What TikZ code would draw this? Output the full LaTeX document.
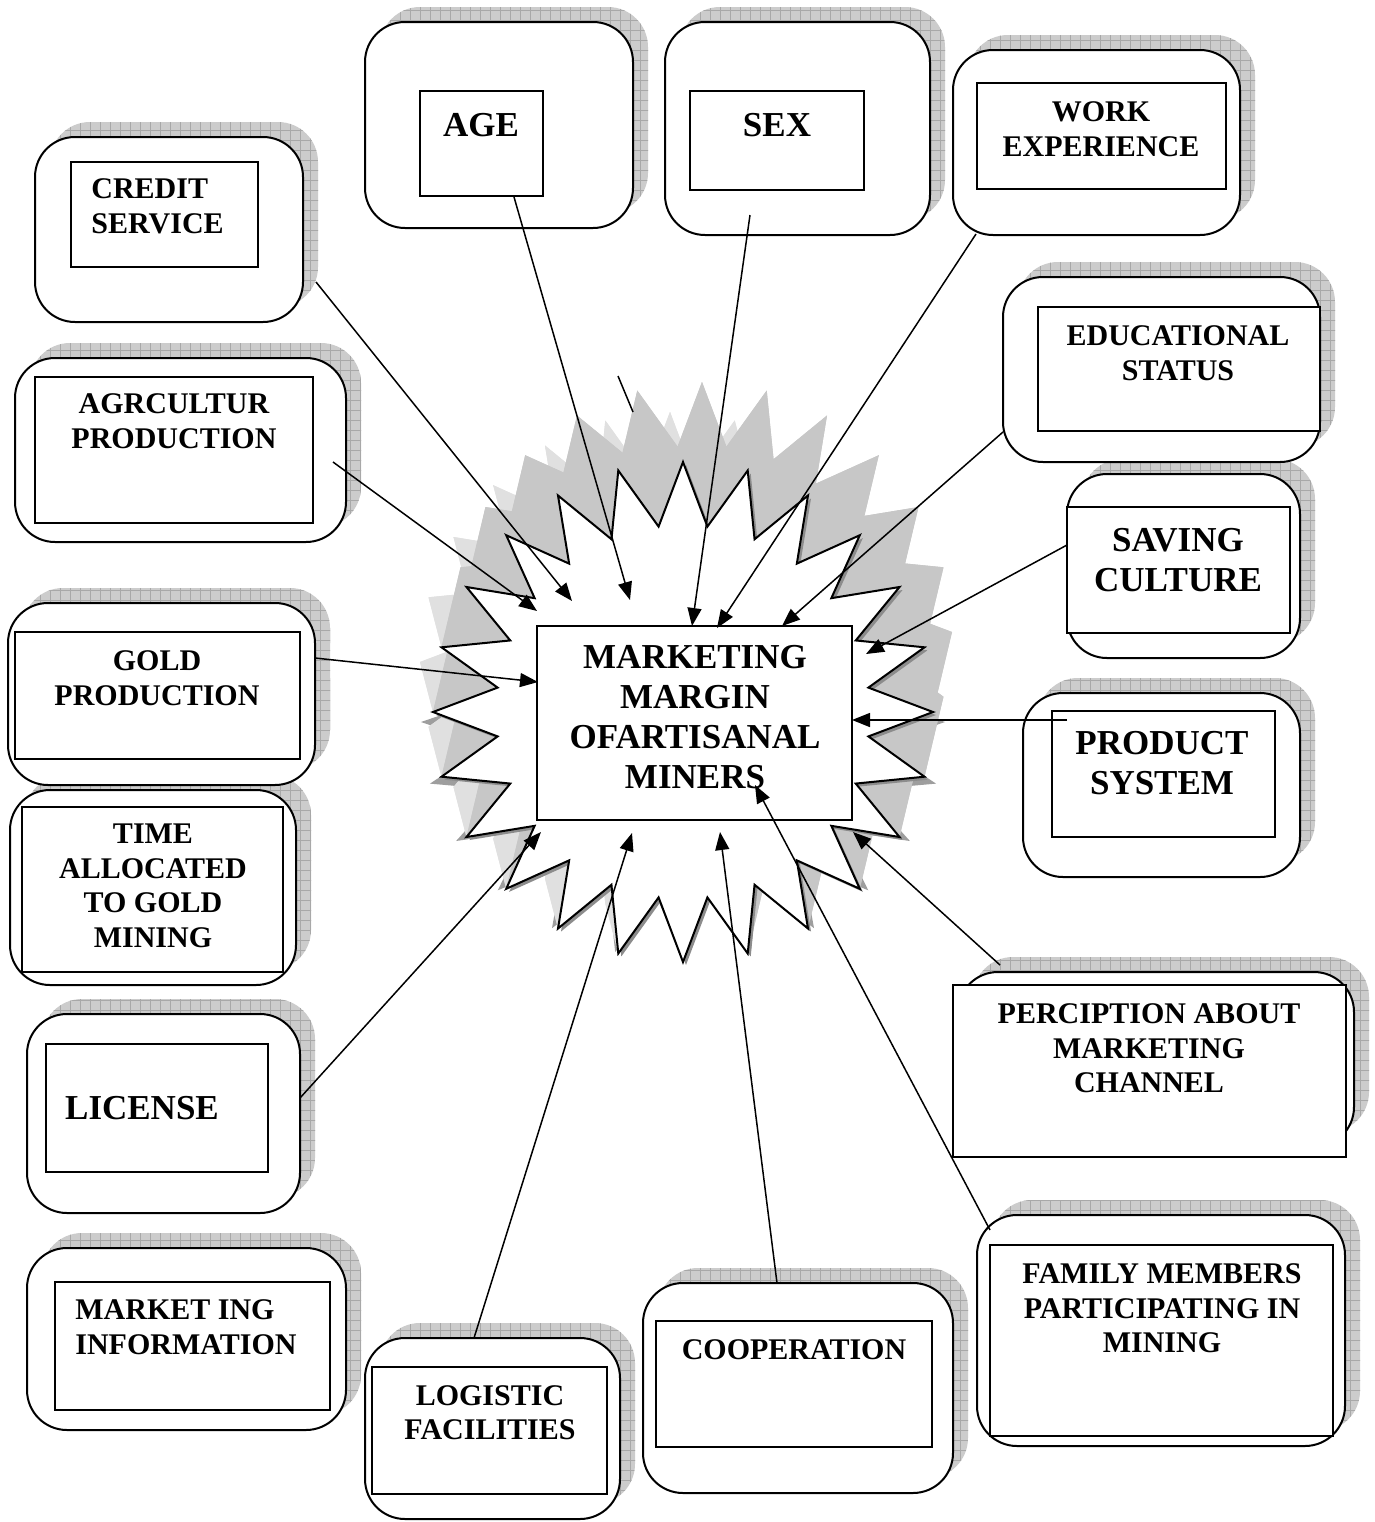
\documentclass[tikz,border=0pt]{standalone}
\usepackage{fontspec}
\setmainfont{Liberation Serif}
\usetikzlibrary{arrows.meta}
\begin{document}
\begin{tikzpicture}[x=0.5pt,y=-0.5pt,
  declare function={sx(\angl,\radi)=683+\radi*cos(\angl); sy(\angl,\radi)=712-\radi*sin(\angl);},
  outerbox/.style={draw=black,fill=white,line width=1pt,rounded corners=20pt},
  innerbox/.style={draw=black,fill=white,line width=1pt},
  lbl/.style={inner sep=0pt,align=center,font=\fontsize{15}{17.3}\selectfont\bfseries},
  biglbl/.style={inner sep=0pt,align=center,font=\fontsize{17.5}{20}\selectfont\bfseries},
  conn/.style={line width=0.75pt,-{Triangle[length=9pt,width=7pt]}},
  plainconn/.style={line width=0.75pt},
  gridline/.style={black!34,line width=0.3pt}]

\fill[white] (0,0) rectangle (1375,1522);
\useasboundingbox (0,0) rectangle (1375,1522);

% ---------- star with extrusion ----------
\newcommand\starsweep[3]{%
  \fill[#3] ({sx(0,250)+#1},{sy(0,250)+#2})
    \foreach \k in {0,...,23} { -- ({sx(15*\k+7.5,187)+#1},{sy(15*\k+7.5,187)+#2}) -- ({sx(15*\k+15,250)+#1},{sy(15*\k+15,250)+#2}) } -- cycle;
  \foreach \k in {0,...,23} {
    \fill[#3] ({sx(15*\k,250)},{sy(15*\k,250)}) -- ({sx(15*\k+7.5,187)},{sy(15*\k+7.5,187)})
      -- ({sx(15*\k+7.5,187)+#1},{sy(15*\k+7.5,187)+#2}) -- ({sx(15*\k,250)+#1},{sy(15*\k,250)+#2}) -- cycle;
    \fill[#3] ({sx(15*\k+7.5,187)},{sy(15*\k+7.5,187)}) -- ({sx(15*\k+15,250)},{sy(15*\k+15,250)})
      -- ({sx(15*\k+15,250)+#1},{sy(15*\k+15,250)+#2}) -- ({sx(15*\k+7.5,187)+#1},{sy(15*\k+7.5,187)+#2}) -- cycle;
  }}
% dark base layer (left and right sides)
\fill[black!38] ({683+262},{722})
  \foreach \k in {0,...,23} { -- ({683+196*cos(15*\k+7.5)},{722-178*sin(15*\k+7.5)}) -- ({683+262*cos(15*\k+15)},{722-238*sin(15*\k+15)}) } -- cycle;
\starsweep{-13}{-50}{black!12}
\starsweep{19}{-80}{black!22}
% thin drop edge
\fill[black!45] ({sx(0,250)+3},{sy(0,250)+3})
  \foreach \k in {0,...,23} { -- ({sx(15*\k+7.5,187)+3},{sy(15*\k+7.5,187)+3}) -- ({sx(15*\k+15,250)+3},{sy(15*\k+15,250)+3}) } -- cycle;
% front face
\filldraw[fill=white,draw=black,line width=1pt] ({sx(0,250)},{sy(0,250)})
  \foreach \k in {0,...,23} { -- ({sx(15*\k+7.5,187)},{sy(15*\k+7.5,187)}) -- ({sx(15*\k+15,250)},{sy(15*\k+15,250)}) } -- cycle;

% ---------- box data: outer x1/y1/x2/y2 / inner x1/y1/x2/y2 ----------
\def\boxdata{35/137/303/322/71/162/258/267,
  365/22/633/228/420/91/543/196,
  665/22/930/235/690/91/864/190,
  953/50/1240/235/977/83/1226/189,
  1003/277/1320/462/1038/307/1320/431,
  15/358/346/542/35/377/313/523,
  1067/474/1300/658/1067/507/1290/633,
  8/603/315/785/15/632/300/759,
  1023/693/1300/877/1052/711/1275/837,
  10/790/296/985/22/807/283/972,
  958/972/1354/1147/953/985/1346/1157,
  27/1014/300/1213/46/1044/268/1172,
  977/1215/1345/1446/990/1245/1333/1436,
  27/1248/346/1430/55/1282/330/1410,
  365/1338/620/1519/372/1367/607/1494,
  643/1283/953/1493/656/1321/932/1447}

% shadows (grid pattern)
\begin{scope}
  \clip[rounded corners=20pt] \foreach \a/\b/\c/\d/\e/\f/\g/\h in \boxdata { ({\a+15},{\b-15}) rectangle ({\c+15},{\d-15}) };
  \fill[black!20] (0,0) rectangle (1375,1522);
  \foreach \gx in {0,10,...,1370} \draw[gridline] (\gx,0) -- (\gx,1522);
  \foreach \gy in {0,10,...,1520} \draw[gridline] (0,\gy) -- (1375,\gy);
\end{scope}

% boxes
\foreach \a/\b/\c/\d/\e/\f/\g/\h in \boxdata {
  \draw[outerbox] (\a,\b) rectangle (\c,\d);
}
\foreach \a/\b/\c/\d/\e/\f/\g/\h in \boxdata {
  \draw[innerbox] (\e,\f) rectangle (\g,\h);
}

% centre box
\node[draw=black,fill=white,line width=1pt,minimum width=157.5pt,minimum height=97pt,inner sep=0pt] (cbox) at (694.5,723) {};

% ---------- texts ----------
\node[lbl,anchor=west,align=left] (credit) at (91,206.5) {CREDIT\\SERVICE};
\node[biglbl] (age) at (481,125) {AGE};
\node[biglbl] (sex) at (777,125) {SEX};
\node[lbl] (work) at (1101,129.5) {WORK\\EXPERIENCE};
\node[lbl] (edu) at (1178,353) {EDUCATIONAL\\STATUS};
\node[lbl] (agr) at (174,421) {AGRCULTUR\\PRODUCTION};
\node[biglbl] (saving) at (1178,560) {SAVING\\CULTURE};
\node[lbl] (gold) at (157,678) {GOLD\\PRODUCTION};
\node[biglbl] (product) at (1162,763) {PRODUCT\\SYSTEM};
\node[lbl] (time) at (153,886) {TIME\\ALLOCATED\\TO GOLD\\MINING};
\node[lbl] (percip) at (1149,1048.5) {PERCIPTION ABOUT\\MARKETING\\CHANNEL};
\node[biglbl] (license) at (142,1108) {LICENSE};
\node[lbl] (family) at (1162,1308.5) {FAMILY MEMBERS\\PARTICIPATING IN\\MINING};
\node[lbl,anchor=west,align=left] (mktinfo) at (75,1327) {MARKET ING\\INFORMATION};
\node[lbl] (logistic) at (490,1412.5) {LOGISTIC\\FACILITIES};
\node[lbl] (coop) at (794,1350) {COOPERATION};
\node[biglbl] (ctext) at (695,717) {MARKETING\\MARGIN\\OFARTISANAL\\MINERS};

% ---------- connector ends ----------
\coordinate (creditS) at (316,282);   \coordinate (creditE) at (572,601);
\coordinate (agrS) at (333,462);      \coordinate (agrE) at (537,611);
\coordinate (ageS) at (514,197);      \coordinate (ageE) at (630,600);
\coordinate (sexS) at (750,215);      \coordinate (sexE) at (692,626);
\coordinate (workS) at (976,234);     \coordinate (workE) at (717,628);
\coordinate (eduS) at (1003,432);     \coordinate (eduE) at (782,626);
\coordinate (savingS) at (1067,545);  \coordinate (savingE) at (866,654);
\coordinate (productS) at (1067,720); \coordinate (productE) at (852,720);
\coordinate (goldS) at (315,658);     \coordinate (goldE) at (538,682);
\coordinate (licenseS) at (300,1098); \coordinate (licenseE) at (541,832);
\coordinate (logisticS) at (474,1338);\coordinate (logisticE) at (632,833);
\coordinate (coopS) at (777,1283);    \coordinate (coopE) at (720,832);
\coordinate (familyS) at (990,1230);  \coordinate (familyE) at (755,785);
\coordinate (percipS) at (1000,965);  \coordinate (percipE) at (853,832);
\coordinate (strayA) at (618,376);    \coordinate (strayB) at (633,412);

\draw[conn] (creditS) -- (creditE);
\draw[conn] (agrS) -- (agrE);
\draw[conn] (ageS) -- (ageE);
\draw[conn] (sexS) -- (sexE);
\draw[conn] (workS) -- (workE);
\draw[conn] (eduS) -- (eduE);
\draw[conn] (savingS) -- (savingE);
\draw[conn] (productS) -- (productE);
\draw[conn] (goldS) -- (goldE);
\draw[conn] (licenseS) -- (licenseE);
\draw[conn] (logisticS) -- (logisticE);
\draw[conn] (coopS) -- (coopE);
\draw[conn] (familyS) -- (familyE);
\draw[conn] (percipS) -- (percipE);
\draw[plainconn] (strayA) -- (strayB);
\end{tikzpicture}
\end{document}
